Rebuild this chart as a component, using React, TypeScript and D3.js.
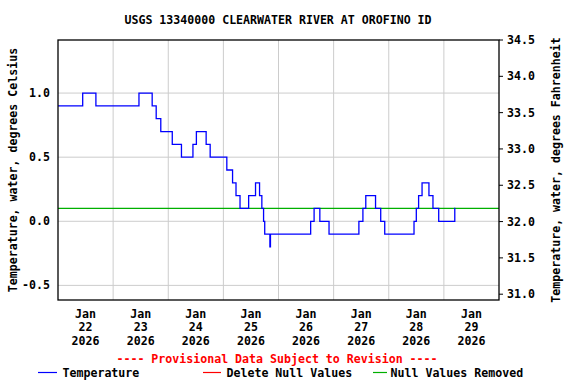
import React from "react";
import * as d3 from "d3";

const TITLE = "USGS 13340000 CLEARWATER RIVER AT OROFINO ID";
// hours since 2026-01-22 00:00 at which the reading changes, and the new value (deg C)
const changeHours = [0, 10.75, 16.5, 35.25, 41, 42.75, 44.75, 49.75, 53.75, 58.75, 60.25, 64.5, 66.25, 73.5, 76, 77.5, 79.25, 83, 86, 87.75, 88.75, 89.5, 90, 92.25, 92.5, 110, 111.5, 114, 118, 131, 132.75, 134, 138.25, 140.5, 142.25, 155, 156, 157, 158.5, 161.5, 163.25, 165.75, 172.75, 173];
const changeValues = [0.9, 1.0, 0.9, 1.0, 0.9, 0.8, 0.7, 0.6, 0.5, 0.6, 0.7, 0.6, 0.5, 0.4, 0.3, 0.2, 0.1, 0.2, 0.3, 0.2, 0.1, 0.0, -0.1, -0.2, -0.1, 0.0, 0.1, 0.0, -0.1, 0.0, 0.1, 0.2, 0.1, 0.0, -0.1, 0.0, 0.1, 0.2, 0.3, 0.2, 0.1, 0.0, 0.1, 0.1];
const nullRemovedValue = 0.1;
const leftTicks = [-0.5, 0.0, 0.5, 1.0];
const rightTicks = [31.0, 31.5, 32.0, 32.5, 33.0, 33.5, 34.0, 34.5];
const dayLabels = [22, 23, 24, 25, 26, 27, 28, 29];
const gridDays = [23, 24, 25, 26, 27, 28, 29];

const FONT = "'DejaVu Sans Mono', monospace";

export default function App() {
  const W = 576, H = 384;
  const L = 58, R = 499, T = 40, B = 300;
  const start = new Date(2026, 0, 22, 0, 0);
  const end = new Date(2026, 0, 30, 0, 0);
  const x = d3.scaleTime().domain([start, end]).range([L, R]);
  const y = d3.scaleLinear().domain([-0.614, 1.414]).range([B, T]);
  const yF = d3.scaleLinear().domain([30.92, 34.5]).range([B, T]);
  const data = changeHours.map((h, i) => ({ t: new Date(start.getTime() + h * 3600e3), v: changeValues[i] }));
  const line = d3.line<{ t: Date; v: number }>().x(d => x(d.t)).y(d => y(d.v)).curve(d3.curveStepAfter);
  const fs = 11.6;
  const txt = { fontFamily: FONT, fontSize: fs, fontWeight: "bold" as const };
  return (
    <svg width={W} height={H} style={{ position: "absolute", left: 0, top: 0, background: "#fff" }}>
      <rect x={0} y={0} width={W} height={H} fill="#fff" />
      <text x={278} y={24} textAnchor="middle" {...txt}>{TITLE}</text>
      {leftTicks.map(v => (
        <line key={"gy" + v} x1={L} x2={R} y1={y(v)} y2={y(v)} stroke="#cccccc" strokeWidth={1} />
      ))}
      {gridDays.map(d => {
        const xx = x(new Date(2026, 0, d, 0, 0));
        return <line key={"gx" + d} x1={xx} x2={xx} y1={T} y2={B} stroke="#cccccc" strokeWidth={1} />;
      })}
      <line x1={L} x2={R} y1={y(nullRemovedValue)} y2={y(nullRemovedValue)} stroke="#00b000" strokeWidth={1.2} />
      <path d={line(data) || ""} fill="none" stroke="#0000ff" strokeWidth={1.3} />
      <rect x={L} y={T} width={R - L} height={B - T} fill="none" stroke="#000" strokeWidth={1.3} />
      {leftTicks.map(v => (
        <text key={"ly" + v} x={50} y={y(v) + 4} textAnchor="end" {...txt}>{v.toFixed(1)}</text>
      ))}
      {rightTicks.map(v => (
        <g key={"ry" + v}>
          <line x1={R} x2={R + 4} y1={yF(v)} y2={yF(v)} stroke="#000" strokeWidth={1} />
          <text x={507} y={yF(v) + 4} textAnchor="start" {...txt}>{v.toFixed(1)}</text>
        </g>
      ))}
      {dayLabels.map(d => {
        const xx = x(new Date(2026, 0, d, 12, 0));
        return (
          <g key={"xl" + d}>
            <text x={xx} y={317.5} textAnchor="middle" {...txt}>Jan</text>
            <text x={xx} y={331} textAnchor="middle" {...txt}>{String(d)}</text>
            <text x={xx} y={344.5} textAnchor="middle" {...txt}>2026</text>
          </g>
        );
      })}
      <text transform={`translate(17,${(T + B) / 2}) rotate(-90)`} textAnchor="middle" {...txt}>Temperature, water, degrees Celsius</text>
      <text transform={`translate(560,${(T + B) / 2}) rotate(-90)`} textAnchor="middle" {...txt}>Temperature, water, degrees Fahrenheit</text>
      <text x={277} y={362.5} textAnchor="middle" {...txt} fill="#ff0000">---- Provisional Data Subject to Revision ----</text>
      <line x1={38} x2={57} y1={372.5} y2={372.5} stroke="#0000ff" strokeWidth={1.2} />
      <text x={62.5} y={377} {...txt}>Temperature</text>
      <line x1={203} x2={221} y1={372.5} y2={372.5} stroke="#ff0000" strokeWidth={1.2} />
      <text x={226.5} y={377} {...txt}>Delete Null Values</text>
      <line x1={373} x2={387} y1={372.5} y2={372.5} stroke="#00b000" strokeWidth={1.2} />
      <text x={390.5} y={377} {...txt}>Null Values Removed</text>
    </svg>
  );
}
